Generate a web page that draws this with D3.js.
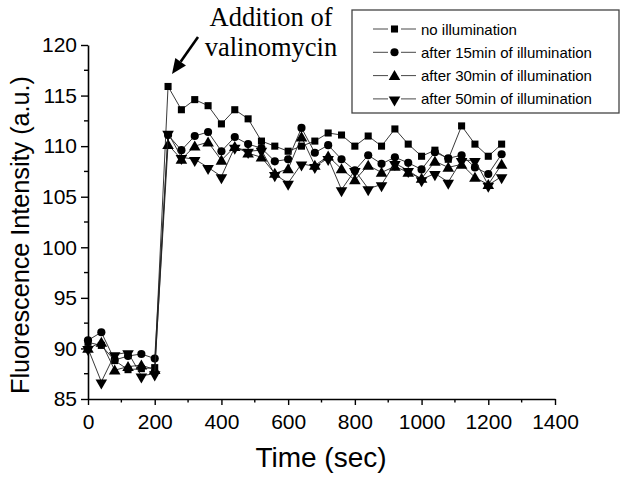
<!DOCTYPE html>
<html><head><meta charset="utf-8">
<script src="https://cdn.jsdelivr.net/npm/d3@7"></script>
<style>body{margin:0;background:#fff}svg{display:block}</style>
</head><body>
<svg id="chart" width="628" height="484"></svg>
<script>
const times = [0,40,80,120,160,200,240,280,320,360,400,440,480,520,560,600,640,680,720,760,800,840,880,920,960,1000,1040,1080,1120,1160,1200,1240];
const noIllum = [90.6,90.3,88.8,87.9,88.0,88.1,115.9,113.6,114.6,114.0,112.2,113.6,112.7,110.5,110.0,109.5,110.0,110.5,111.3,111.1,110.0,111.0,110.0,111.7,110.2,109.0,109.6,108.7,112.0,110.2,109.0,110.2];
const min15 = [90.8,91.6,88.85,89.25,89.45,89.0,111.1,109.6,111.0,111.4,109.5,110.9,110.2,109.8,108.5,108.7,111.8,109.35,110.1,108.7,107.6,109.1,108.25,108.9,108.35,107.7,109.4,108.8,109.1,107.9,107.25,109.2];
const min30 = [90.0,90.6,87.85,88.2,88.35,87.9,110.15,108.7,110.0,110.4,108.6,109.95,109.3,108.9,107.3,107.75,110.9,108.1,109.0,107.75,106.65,108.1,107.4,108.0,107.4,106.8,108.5,107.9,108.2,106.9,106.2,108.2];
const min50 = [90.0,86.7,89.4,89.6,87.3,87.5,111.3,108.9,108.7,107.9,107.0,109.9,109.5,109.6,107.2,106.35,108.25,108.0,108.8,105.7,107.6,105.8,106.2,108.3,107.6,106.7,107.3,106.45,108.6,108.6,106.15,107.0];
const seriesNames = ["no illumination","after 15min of illumination","after 30min of illumination","after 50min of illumination"];
const seriesValues = [noIllum, min15, min30, min50];
const seriesSymbols = ["square","circle","triangleUp","triangleDown"];
const xTicks = [0,200,400,600,800,1000,1200,1400];
const xMinor = [100,300,500,700,900,1100,1300];
const yTicks = [85,90,95,100,105,110,115,120];
const yMinor = [87.5,92.5,97.5,102.5,107.5,112.5,117.5];
const xTitle = "Time (sec)";
const yTitle = "Fluorescence Intensity (a.u.)";
const annotation = ["Addition of","valinomycin"];

const svg = d3.select("#chart");
const x = d3.scaleLinear().domain([0,1400]).range([88,555]);
const y = d3.scaleLinear().domain([85,120]).range([399,45]);
const font = "'Liberation Sans', Arial, Helvetica, sans-serif";

function symbolPath(kind){
  if(kind==="square") return d3.symbol(d3.symbolSquare, 50)();
  if(kind==="circle") return d3.symbol(d3.symbolCircle, 52)();
  return d3.symbol(d3.symbolTriangle, 58)();
}
function symbolTransform(kind, px, py){
  if(kind==="triangleDown") return `translate(${px},${py+1}) rotate(180)`;
  if(kind==="triangleUp") return `translate(${px},${py+1})`;
  return `translate(${px},${py})`;
}

// axes
const xAxis = svg.append("g").attr("transform","translate(0,399)")
  .call(d3.axisBottom(x).tickValues(xTicks).tickSize(6).tickSizeOuter(0).tickPadding(9).tickFormat(d3.format("d")));
xAxis.selectAll("text").attr("font-size",21).attr("font-family",font).attr("fill","#000");
xAxis.selectAll("line").attr("stroke","#000").attr("stroke-width",1.4);
xAxis.select(".domain").attr("stroke","#000").attr("stroke-width",1.6);
xAxis.selectAll(".minor").data(xMinor).enter().append("line").attr("class","minor")
  .attr("x1",d=>x(d)).attr("x2",d=>x(d)).attr("y1",0).attr("y2",3.5).attr("stroke","#000").attr("stroke-width",1.4);

const yAxis = svg.append("g").attr("transform","translate(88,0)")
  .call(d3.axisLeft(y).tickValues(yTicks).tickSize(7).tickSizeOuter(0).tickPadding(4).tickFormat(d3.format("d")));
yAxis.selectAll("text").attr("font-size",21).attr("font-family",font).attr("fill","#000");
yAxis.selectAll("line").attr("stroke","#000").attr("stroke-width",1.4);
yAxis.select(".domain").attr("stroke","#000").attr("stroke-width",1.6);
yAxis.selectAll(".minor").data(yMinor).enter().append("line").attr("class","minor")
  .attr("x1",0).attr("x2",-4).attr("y1",d=>y(d)).attr("y2",d=>y(d)).attr("stroke","#000").attr("stroke-width",1.4);

// titles
svg.append("text").attr("x",321).attr("y",467).attr("text-anchor","middle")
  .attr("font-family",font).attr("font-size",28).text(xTitle);
svg.append("text").attr("transform","translate(29,235) rotate(-90)").attr("text-anchor","middle")
  .attr("font-family",font).attr("font-size",25)
  .attr("textLength",318).attr("lengthAdjust","spacingAndGlyphs").text(yTitle);

// series
const line = d3.line().x((d,i)=>x(times[i])).y(d=>y(d));
seriesValues.forEach((vals,si)=>{
  const g = svg.append("g");
  g.append("path").datum(vals).attr("d",line).attr("fill","none").attr("stroke","#222").attr("stroke-width",0.9);
  g.selectAll("path.m").data(vals).enter().append("path").attr("class","m")
    .attr("d",symbolPath(seriesSymbols[si]))
    .attr("transform",(d,i)=>symbolTransform(seriesSymbols[si], x(times[i]), y(d)))
    .attr("fill","#000");
});

// legend
const leg = svg.append("g");
leg.append("rect").attr("x",352).attr("y",10).attr("width",267).attr("height",103)
  .attr("fill","#fff").attr("stroke","#444").attr("stroke-width",1.3);
seriesNames.forEach((name,i)=>{
  const cy = 29 + i*23.3;
  leg.append("line").attr("x1",373).attr("x2",388).attr("y1",cy).attr("y2",cy).attr("stroke","#333").attr("stroke-width",0.9);
  leg.append("line").attr("x1",401).attr("x2",416).attr("y1",cy).attr("y2",cy).attr("stroke","#333").attr("stroke-width",0.9);
  leg.append("path").attr("d",symbolPath(seriesSymbols[i])).attr("transform",symbolTransform(seriesSymbols[i],394.5,cy)).attr("fill","#000");
  leg.append("text").attr("x",421).attr("y",cy+5.5).attr("font-family",font).attr("font-size",15).text(name);
});

// annotation
const serif = "'Liberation Serif','Times New Roman',Times,serif";
svg.append("text").attr("x",271).attr("y",26).attr("text-anchor","middle").attr("font-family",serif).attr("font-size",26.5).text(annotation[0]);
svg.append("text").attr("x",271).attr("y",56).attr("text-anchor","middle").attr("font-family",serif).attr("font-size",26.5).text(annotation[1]);
const tip=[172,74], tail=[198,37];
const dx=tail[0]-tip[0], dy=tail[1]-tip[1], L=Math.hypot(dx,dy), ux=dx/L, uy=dy/L;
const hl=15, hw=6.5;
const bx=tip[0]+ux*hl, by=tip[1]+uy*hl;
svg.append("line").attr("x1",tail[0]).attr("y1",tail[1]).attr("x2",bx).attr("y2",by).attr("stroke","#000").attr("stroke-width",2.6);
svg.append("path").attr("d",`M${tip[0]},${tip[1]}L${bx-uy*hw},${by+ux*hw}L${bx+uy*hw},${by-ux*hw}Z`).attr("fill","#000");
</script>
</body></html>
